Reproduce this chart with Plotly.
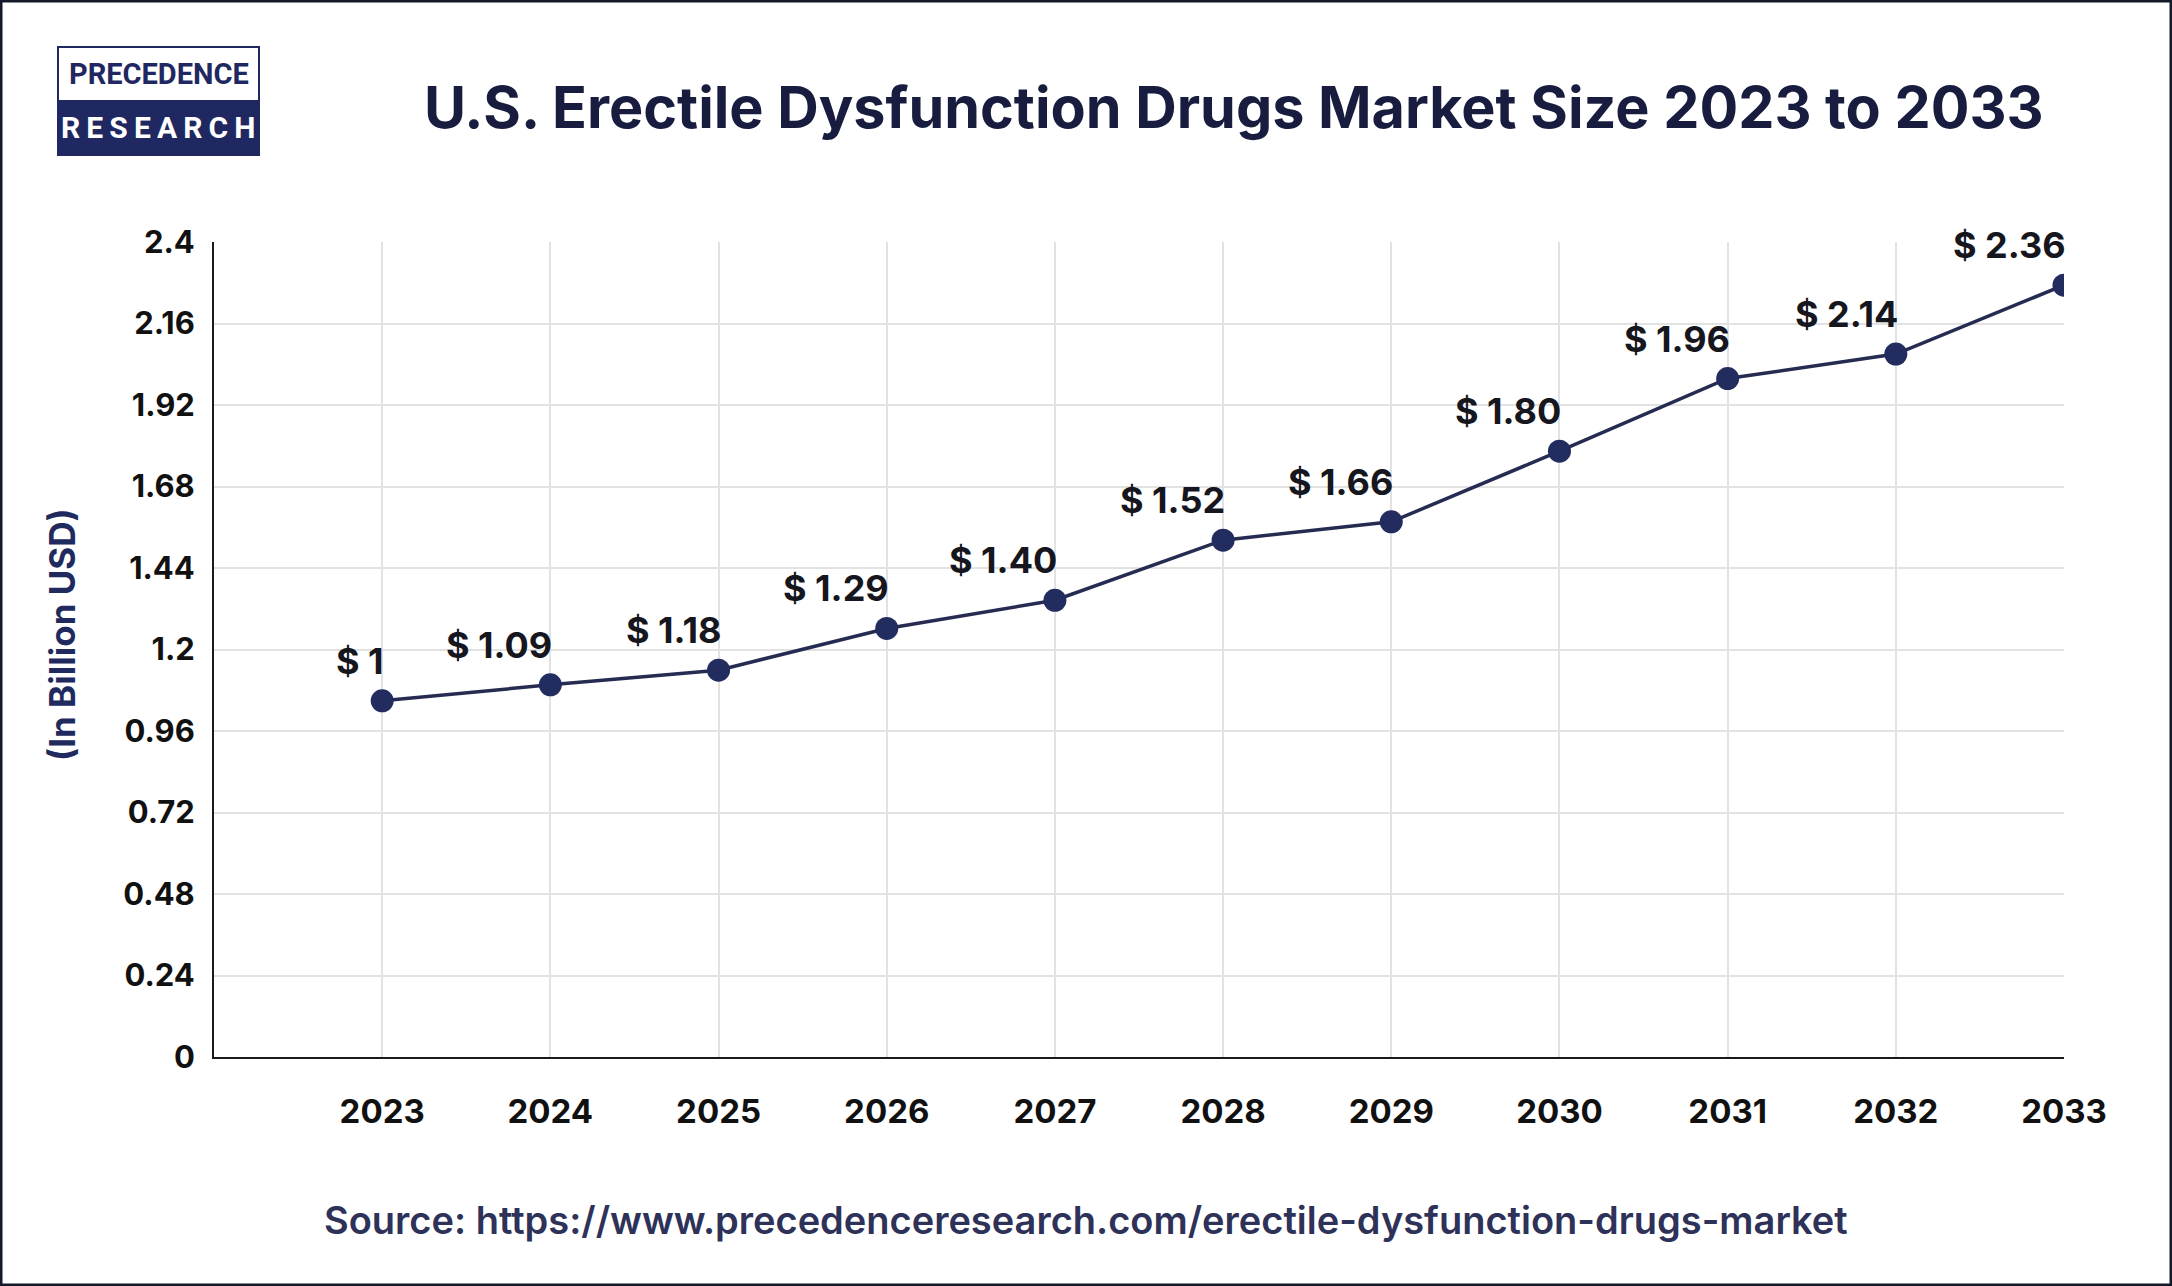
import plotly.graph_objects as go

years = [2023, 2024, 2025, 2026, 2027, 2028, 2029, 2030, 2031, 2032, 2033]
values = [1.049, 1.096, 1.139, 1.262, 1.345, 1.522, 1.576, 1.784, 1.998, 2.07, 2.273]
value_labels = ["$ 1", "$ 1.09", "$ 1.18", "$ 1.29", "$ 1.40", "$ 1.52",
                "$ 1.66", "$ 1.80", "$ 1.96", "$ 2.14", "$ 2.36"]
y_ticks = [0, 0.24, 0.48, 0.72, 0.96, 1.2, 1.44, 1.68, 1.92, 2.16, 2.4]
y_tick_text = ["0", "0.24", "0.48", "0.72", "0.96", "1.2", "1.44", "1.68", "1.92", "2.16", "2.4"]

title_text = "U.S. Erectile Dysfunction Drugs Market Size 2023 to 2033"
y_title = "(In Billion USD)"
source_text = "Source: https://www.precedenceresearch.com/erectile-dysfunction-drugs-market"
logo_top = "PRECEDENCE"
logo_bottom = "\u2009".join("RESEARCH")

W, H = 2172, 1286
L, R, T, B = 214, 108, 242, 229
PW, PH = W - L - R, H - T - B


def px(x):
    return (x - L) / PW


def py(y):
    return (H - B - y) / PH


NAVY = "#222c5e"
FONT = "Inter, Roboto, sans-serif"

fig = go.Figure()
fig.add_trace(go.Scatter(
    x=years, y=values, mode="lines+markers",
    line=dict(color="#262b52", width=3.5),
    marker=dict(color=NAVY, size=23),
    hoverinfo="skip", showlegend=False,
))

annotations = []
for yr, v, lab in zip(years, values, value_labels):
    annotations.append(dict(
        x=yr, y=v, xref="x", yref="y", text=lab, showarrow=False,
        xanchor="right", yanchor="middle", xshift=4, yshift=40,
        font=dict(family=FONT, size=36, color="#15161e", weight=700),
    ))

# title
annotations.append(dict(
    x=px(1234), y=py(107), xref="paper", yref="paper", text=title_text,
    showarrow=False, xanchor="center", yanchor="middle",
    font=dict(family=FONT, size=57.5, color="#181d3f", weight=700),
))
# y axis title
annotations.append(dict(
    x=px(62), y=py(635), xref="paper", yref="paper", text=y_title,
    showarrow=False, xanchor="center", yanchor="middle", textangle=-90,
    font=dict(family=FONT, size=35, color="#1f2a5e", weight=700),
))
# source
annotations.append(dict(
    x=px(1086), y=py(1220), xref="paper", yref="paper", text=source_text,
    showarrow=False, xanchor="center", yanchor="middle",
    font=dict(family=FONT, size=38, color="#2e3258", weight=600),
))
# logo texts
LOGO_FONT = "Roboto, sans-serif"
annotations.append(dict(
    x=px(158.5), y=py(74), xref="paper", yref="paper", text=logo_top,
    showarrow=False, xanchor="center", yanchor="middle",
    font=dict(family=LOGO_FONT, size=29, color="#1f2860", weight=700),
))
annotations.append(dict(
    x=px(158.5), y=py(128), xref="paper", yref="paper", text=logo_bottom,
    showarrow=False, xanchor="center", yanchor="middle",
    font=dict(family=LOGO_FONT, size=30, color="#ffffff", weight=700),
))

shapes = [
    # outer frame
    dict(type="rect", xref="paper", yref="paper",
         x0=px(0), x1=px(W), y0=py(H), y1=py(0),
         line=dict(color="#141a2c", width=5), fillcolor="rgba(0,0,0,0)", layer="above"),
    # logo
    dict(type="rect", xref="paper", yref="paper",
         x0=px(58), x1=px(259), y0=py(155), y1=py(47),
         line=dict(color="#1f2860", width=2), fillcolor="#ffffff", layer="below"),
    dict(type="rect", xref="paper", yref="paper",
         x0=px(58), x1=px(259), y0=py(155), y1=py(101),
         line=dict(color="#1f2860", width=2), fillcolor="#1f2860", layer="below"),
]

fig.update_layout(
    width=W, height=H,
    margin=dict(l=L, r=R, t=T, b=B, autoexpand=False),
    paper_bgcolor="#ffffff", plot_bgcolor="#ffffff",
    annotations=annotations, shapes=shapes,
    xaxis=dict(
        range=[2022, 2033], tickmode="array", tickvals=years,
        ticktext=[str(y) for y in years],
        showgrid=True, gridcolor="#e2e2e2", gridwidth=2,
        showline=True, linecolor="#1a1a1a", linewidth=2,
        zeroline=False, ticks="", ticklabelstandoff=24,
        tickfont=dict(family=FONT, size=33, color="#111111", weight=700),
    ),
    yaxis=dict(
        range=[0, 2.4], tickmode="array", tickvals=y_ticks, ticktext=y_tick_text,
        showgrid=True, gridcolor="#e2e2e2", gridwidth=2,
        showline=True, linecolor="#1a1a1a", linewidth=2,
        zeroline=False, ticks="", ticklabelstandoff=11,
        tickfont=dict(family=FONT, size=31, color="#111111", weight=700),
    ),
)

fig.write_html(
    "out.html",
    config={"displayModeBar": False, "staticPlot": True},
    post_script="document.body.style.margin='0';document.body.style.overflow='hidden';",
)
